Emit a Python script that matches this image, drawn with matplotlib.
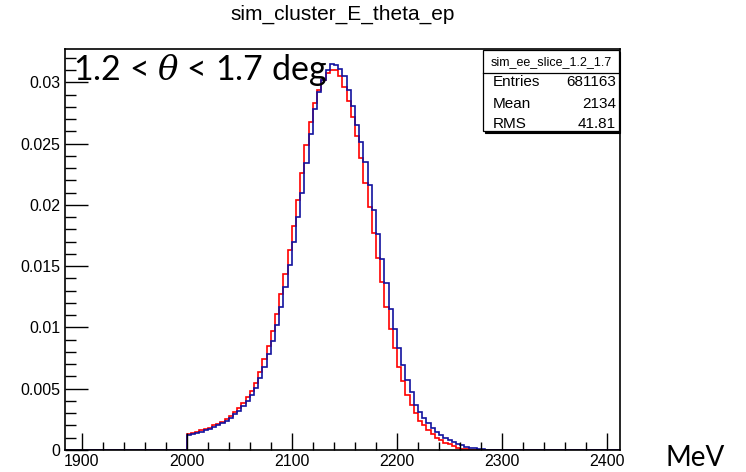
import matplotlib
matplotlib.use('Agg')
import matplotlib.pyplot as plt
import numpy as np
from matplotlib.patches import Rectangle
from matplotlib.lines import Line2D
from matplotlib.ticker import MultipleLocator, FuncFormatter

# ---------------- data ----------------
bin_low_edges = list(range(2000, 2284, 4))   # MeV, bin width 4
bin_width = 4
x_range = (1884, 2412)

blue_vals = [0.0012, 0.0013, 0.0014, 0.0015, 0.0016, 0.0017, 0.0019, 0.0020, 0.0022, 0.0024,
             0.0026, 0.0029, 0.0032, 0.0036, 0.0040, 0.0045, 0.0051, 0.0059, 0.0068, 0.0078,
             0.0089, 0.0102, 0.0117, 0.0133, 0.0151, 0.0170, 0.0190, 0.0210, 0.0234, 0.0258,
             0.0278, 0.0292, 0.0302, 0.0310, 0.0315, 0.0314, 0.0311, 0.0305, 0.0294, 0.0281,
             0.0265, 0.0251, 0.0235, 0.0216, 0.0196, 0.0176, 0.0156, 0.0136, 0.0115, 0.0099,
             0.0083, 0.0069, 0.0057, 0.0047, 0.0037, 0.0031, 0.0026, 0.0022, 0.0018, 0.0015,
             0.0012, 0.0010, 0.0008, 0.00065, 0.0005, 0.00038, 0.00028, 0.0002, 0.00014, 0.0001,
             0.00005]
red_vals = [0.0013, 0.0014, 0.0015, 0.0016, 0.0017, 0.0018, 0.0020, 0.0021, 0.0023, 0.0025,
            0.0028, 0.0031, 0.0034, 0.0038, 0.0043, 0.0048, 0.0055, 0.0064, 0.0074, 0.0085,
            0.0097, 0.0111, 0.0127, 0.0144, 0.0163, 0.0183, 0.0204, 0.0226, 0.0249, 0.0268,
            0.0283, 0.0294, 0.0302, 0.0308, 0.0310, 0.0310, 0.0305, 0.0296, 0.0285, 0.0272,
            0.0256, 0.0238, 0.0218, 0.0198, 0.0177, 0.0157, 0.0137, 0.0117, 0.0099, 0.0083,
            0.0068, 0.0056, 0.0045, 0.0037, 0.0030, 0.0024, 0.0020, 0.0016, 0.0013, 0.0010,
            0.0008, 0.0006, 0.00045, 0.0003, 0.0002, 0.00012, 0.00005, 0.0, 0.0, 0.0,
            0.0]

title = 'sim_cluster_E_theta_ep'
stats_name = 'sim_ee_slice_1.2_1.7'
stats_labels = ['Entries', 'Mean', 'RMS']
stats_values = ['681163', '2134', '41.81']
y_ticks = [0, 0.005, 0.01, 0.015, 0.02, 0.025, 0.03]
x_ticks = [1900, 2000, 2100, 2200, 2300, 2400]
annotation = r'1.2 < $\theta$ < 1.7 deg'
unit_label = 'MeV'

# ---------------- figure ----------------
W, H = 746, 472
plt.rcParams['font.family'] = ['Liberation Sans', 'DejaVu Sans']
plt.rcParams['mathtext.fontset'] = 'dejavuserif'
fig = plt.figure(figsize=(W / 100, H / 100), dpi=100)

def fx(x):
    return x / W

def fy(y):
    return 1 - y / H

L, R, T, B = 64.7, 620.0, 49.3, 450.0
ax = fig.add_axes([fx(L), fy(B), (R - L) / W, (B - T) / H])

edges = np.concatenate([[x_range[0]], bin_low_edges, [bin_low_edges[-1] + bin_width, x_range[1]]])
red_full = np.concatenate([[0.0], red_vals, [0.0]])
blue_full = np.concatenate([[0.0], blue_vals, [0.0]])
ax.stairs(red_full, edges, baseline=None, color='#ff0000', lw=1.2)
ax.stairs(blue_full, edges, baseline=None, color='#12129e', lw=1.2)

ax.set_xlim(*x_range)
ax.set_ylim(0, 0.0327)
ax.set_xticks(x_ticks)
ax.set_yticks(y_ticks)
ax.xaxis.set_minor_locator(MultipleLocator(20))
ax.yaxis.set_minor_locator(MultipleLocator(0.001))
ax.yaxis.set_major_formatter(FuncFormatter(lambda v, p: '%g' % v))
ax.tick_params(axis='both', which='both', direction='in', top=False, right=False,
               labelsize=11.5, width=1.0, color='black')
ax.tick_params(axis='x', which='major', length=12, pad=3)
ax.tick_params(axis='x', which='minor', length=6)
ax.tick_params(axis='y', which='major', length=16.5, pad=3)
ax.tick_params(axis='y', which='minor', length=8)
for s in ax.spines.values():
    s.set_linewidth(1.2)

fig.text(fx((L + R) / 2), fy(14), title, ha='center', va='center', fontsize=15)

# stats box
bx0, bx1, by0, by1 = 483.3, 618.5, 50.0, 131.0
shadow = Rectangle((fx(bx0 + 1.5), fy(by1 + 1.5)), (bx1 - bx0) / W, (by1 - by0) / H,
                   transform=fig.transFigure, facecolor='black', edgecolor='black', lw=0.8, zorder=5)
box = Rectangle((fx(bx0), fy(by1)), (bx1 - bx0) / W, (by1 - by0) / H,
                transform=fig.transFigure, facecolor='white', edgecolor='black', lw=0.9, zorder=6)
fig.add_artist(shadow)
fig.add_artist(box)
fig.add_artist(Line2D([fx(bx0), fx(bx1)], [fy(72.7), fy(72.7)], transform=fig.transFigure,
                      color='black', lw=0.9, zorder=7))
fig.text(fx((bx0 + bx1) / 2), fy(61.7), stats_name, ha='center', va='center', fontsize=9, zorder=8)
for lab, val, yc in zip(stats_labels, stats_values, [82.3, 104.3, 124.3]):
    fig.text(fx(492.7), fy(yc), lab, ha='left', va='center', fontsize=11, zorder=8)
    fig.text(fx(616.0), fy(yc), val, ha='right', va='center', fontsize=11, zorder=8)

fig.text(fx(73), fy(80), annotation, ha='left', va='baseline', fontsize=24.5,
         family=['Lato', 'DejaVu Sans'], zorder=9)
fig.text(fx(666), fy(466), unit_label, ha='left', va='baseline', fontsize=20,
         family=['Lato', 'DejaVu Sans'])

fig.savefig('out.png', dpi=100)
